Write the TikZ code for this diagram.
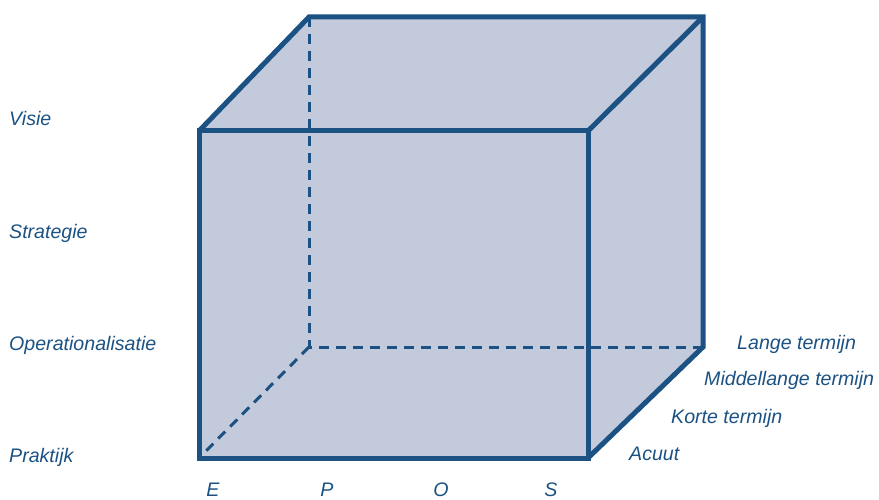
\documentclass[tikz,border=0pt]{standalone}
\usepackage{fontspec}
\setmainfont{Liberation Sans}
\usepackage{tikz}
\definecolor{edge}{HTML}{1B5283}
\definecolor{face}{HTML}{C3CADC}

\begin{document}
\begin{tikzpicture}[
  x=1pt,y=1pt,
  font=\fontsize{19.6}{22}\selectfont\itshape\color{edge},
  solid edge/.style={draw=edge,line width=5pt,line join=miter},
  hidden edge/.style={draw=edge,line width=3pt,dash pattern=on 10pt off 7pt},
  lbl/.style={anchor=base west,inner sep=0pt},
  axis/.style={anchor=base,inner sep=0pt},
]
\useasboundingbox (0,0) rectangle (879,499);

% corners of the cube
\coordinate (fbl) at (199,41);
\coordinate (fbr) at (588,41);
\coordinate (ftr) at (588,368);
\coordinate (ftl) at (199,368);
\coordinate (bbl) at (309,152);
\coordinate (bbr) at (703,152);
\coordinate (btr) at (703,482);
\coordinate (btl) at (309,482);

\fill[face] (fbl) -- (fbr) -- (bbr) -- (btr) -- (btl) -- (ftl) -- cycle;
\draw[hidden edge] (btl) -- (bbl) -- (bbr);
\draw[hidden edge] (bbl) -- (fbl);
\draw[solid edge] (ftl) -- (btl) -- (btr) -- (bbr) -- (fbr);
\draw[solid edge] (ftr) -- (btr);
\draw[solid edge] (fbl) rectangle (ftr);

% levels on the left
\node[lbl] (visie) at (9,373) {Visie};
\node[lbl] (strategie) at (9,261) {Strategie};
\node[lbl] (operationalisatie) at (9,149) {Operationalisatie};
\node[lbl] (praktijk) at (9,37) {Praktijk};

% time span on the right
\node[lbl] (lang) at (737,150) {Lange termijn};
\node[lbl] (middel) at (704,114) {Middellange termijn};
\node[lbl] (kort) at (671,76) {Korte termijn};
\node[lbl] (acuut) at (629,39) {Acuut};

% letters along the bottom
\node[axis] (e) at (213,3) {E};
\node[axis] (p) at (327,3) {P};
\node[axis] (o) at (441,3) {O};
\node[axis] (s) at (551,3) {S};
\end{tikzpicture}
\end{document}
